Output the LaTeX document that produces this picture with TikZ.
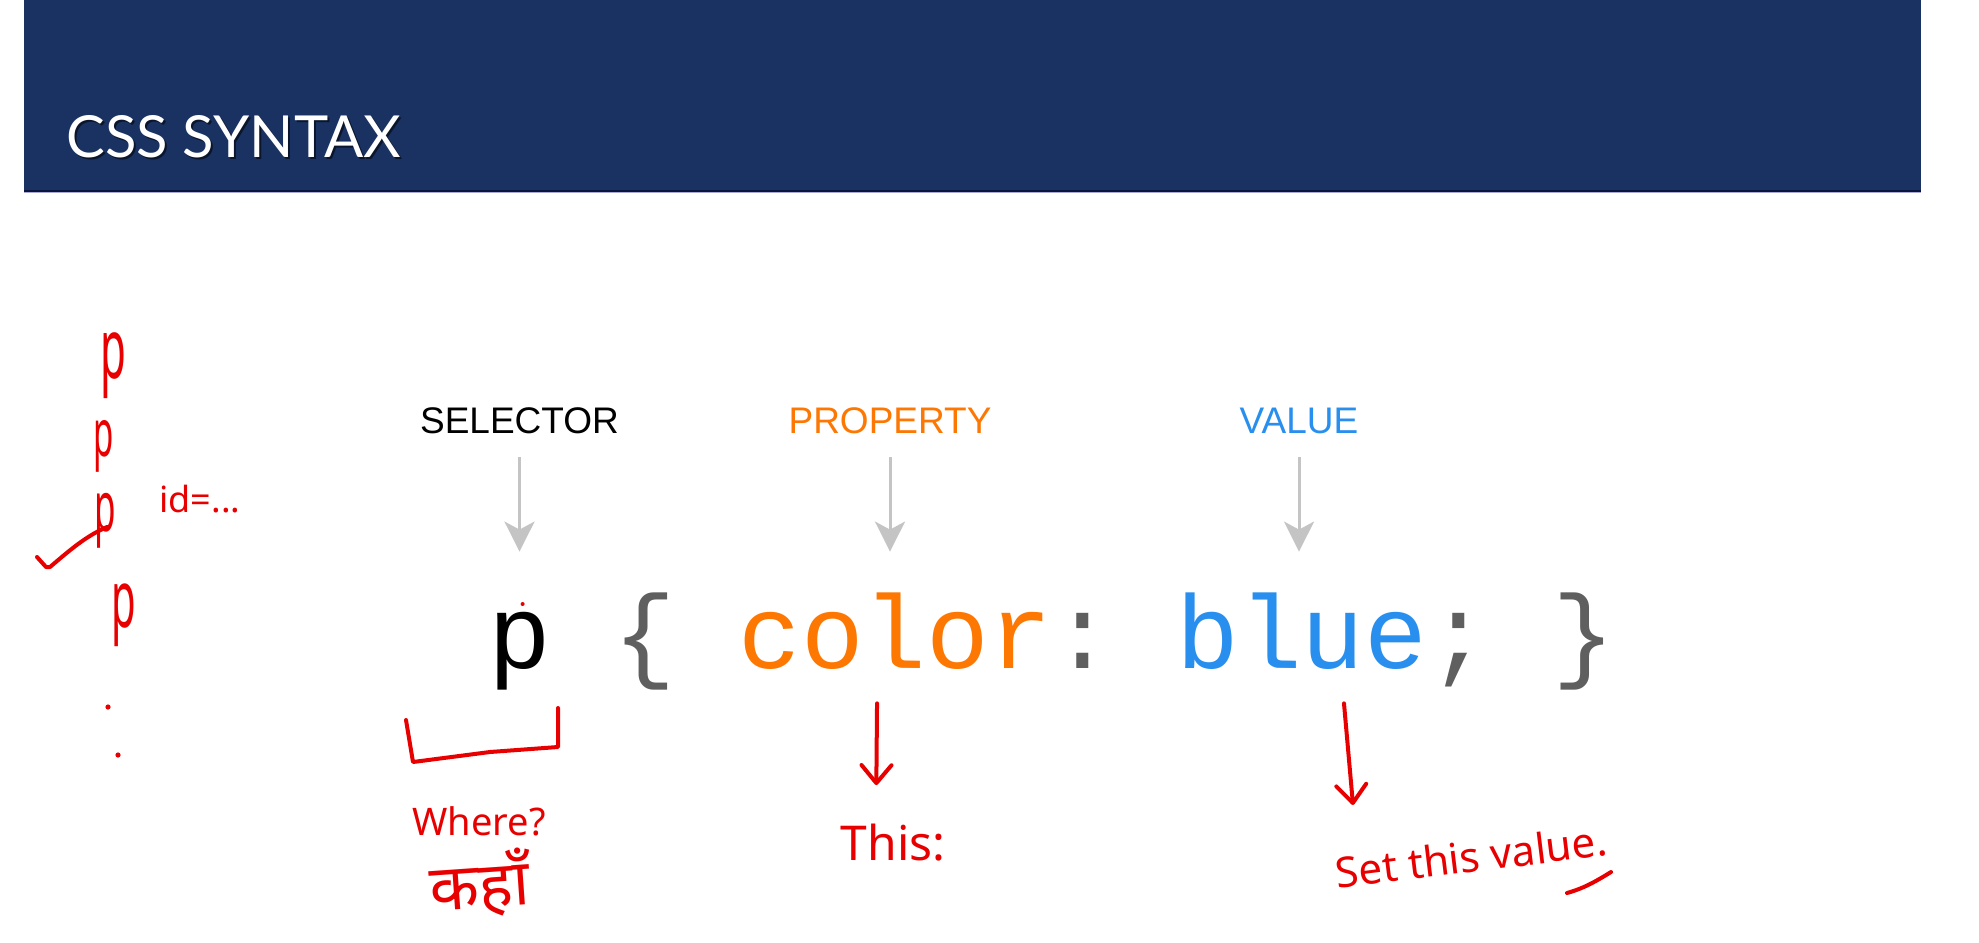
\documentclass[tikz,border=0pt]{standalone}
\usepackage{fontspec}
\usetikzlibrary{arrows.meta}
\newfontfamily\titlefont{Lato}
\newfontfamily\labelfont{Liberation Sans}
\newfontfamily\codefont{Liberation Mono}
\newfontfamily\handfont{Noto Sans}
\newfontfamily\devafont[Script=Devanagari]{Noto Sans}
\definecolor{barblue}{RGB}{25,50,98}
\definecolor{barline}{RGB}{10,20,62}
\definecolor{barlav}{RGB}{170,170,210}
\definecolor{cssorange}{RGB}{253,119,3}
\definecolor{cssblue}{RGB}{40,143,238}
\definecolor{codegray}{RGB}{95,95,95}
\definecolor{arrowgray}{RGB}{196,196,196}
\definecolor{pen}{RGB}{232,0,0}
\begin{document}
\begin{tikzpicture}[x=0.5pt,y=-0.5pt,
  lbl/.style={inner sep=0pt, anchor=base, font=\labelfont\fontsize{18.5pt}{22pt}\selectfont},
  code/.style={inner sep=0pt, anchor=base west, text height=39pt, text depth=12pt,
               font=\codefont\fontsize{52.2pt}{60pt}\selectfont},
  hand/.style={inner sep=0pt, anchor=base, text=pen},
  grayarr/.style={draw=arrowgray, line width=1.5pt,
                  -{Stealth[length=15pt,width=15pt,inset=4pt]}},
  redarr/.style={draw=pen, line width=2pt, line cap=round, line join=round,
                 -{Straight Barb[length=9pt,width=15pt,round]}},
  ink/.style={draw=pen, line width=2pt, line cap=round, line join=round}]
\useasboundingbox (0,0) rectangle (1979,942);
\fill[white] (0,0) rectangle (1979,942);

% title bar
\fill[barblue] (24,0) rectangle (1921,192);
\draw[barline, line width=1.2pt] (24,190.8) -- (1921,190.8);
\draw[barlav, line width=0.5pt] (24,192.6) -- (1921,192.6);
\node[inner sep=0pt, anchor=base west, text=black, opacity=0.55,
      font=\titlefont\fontsize{29pt}{34pt}\selectfont] at (68,159) {CSS SYNTAX};
\node[inner sep=0pt, anchor=base west, text=white,
      font=\titlefont\fontsize{29pt}{34pt}\selectfont] (title) at (66,157) {CSS SYNTAX};

% part labels
\node[lbl, text=black] (sel) at (519.5,433) {SELECTOR};
\node[lbl, text=cssorange] (prop) at (890,433) {PROPERTY};
\node[lbl, text=cssblue] (val) at (1299,433) {VALUE};

% the rule, one token per node
\node[code, text=black] (p) at (487.7,668) {p};
\node[code, text=codegray] (lb) at (612.9,668) {\{};
\node[code, text=cssorange] (col) at (738.1,668) {color};
\node[code, text=codegray] (colon) at (1051.1,668) {:};
\node[code, text=cssblue] (blue) at (1176.3,668) {blue};
\node[code, text=codegray] (semi) at (1426.7,668) {;};
\node[code, text=codegray] (rb) at (1551.9,668) {\}};

% label arrows
\draw[grayarr, shorten <=12pt, shorten >=19pt] (sel.base) -- (sel.base |- p.north);
\draw[grayarr, shorten <=12pt, shorten >=19pt] (prop.base) -- (prop.base |- col.north);
\draw[grayarr, shorten <=12pt, shorten >=19pt] (val.base) -- (val.base |- blue.north);

% pen mark on the p
\fill[pen] (522.6,604) circle (1pt);

% left-hand notes: a column of p elements
\node[hand, font=\handfont\fontsize{42pt}{46pt}\selectfont] (p1) at (113,378) {\scalebox{0.5}[1]{p}};
\node[hand, font=\handfont\fontsize{33pt}{37pt}\selectfont] (p2) at (104,456) {\scalebox{0.5}[1]{p}};
\node[hand, font=\handfont\fontsize{35pt}{40pt}\selectfont] (p3) at (105,531) {\scalebox{0.5}[1]{p}};
\node[hand, font=\handfont\fontsize{40pt}{45pt}\selectfont] (p4) at (124,627) {\scalebox{0.5}[1]{p}};
\node[hand, anchor=base west, font=\handfont\fontsize{18pt}{22pt}\selectfont] (idnote) at (159,512) {id=...};
\draw[ink] (37,557) -- (46,567) -- (50,567) .. controls (70,550) and (86,536) .. (107,527);
\fill[pen] (108,707) circle (1.3pt);
\fill[pen] (118,755) circle (1.3pt);

% selector bracket and its notes
\draw[ink] (406,720) -- (413,762) -- (490,752) -- (558,747) -- (558,708);
\node[hand, font=\handfont\fontsize{19pt}{23pt}\selectfont] (where) at (479,835) {Where?};
\node[hand, rotate=4, font=\devafont\fontsize{32pt}{36pt}\selectfont] (kahan) at (481,908) {कहाँ};

% property note
\node[hand, font=\handfont\fontsize{24pt}{28pt}\selectfont] (this) at (893,860) {This:};
\draw[redarr, shorten <=5.5pt, shorten >=19pt] ([xshift=-9pt]col.south) -- ([xshift=-8.5pt]this.north);

% value note
\node[hand, rotate=7, font=\handfont\fontsize{21pt}{25pt}\selectfont] (setval) at (1473,872) {Set this value.};
\coordinate (valtip) at (1353,805);
\draw[redarr, shorten <=5.5pt] ([xshift=20.5pt]blue.south) -- (valtip);
\draw[ink] (1567,893) .. controls (1585,888) and (1598,880) .. (1611,872);
\end{tikzpicture}
\end{document}
